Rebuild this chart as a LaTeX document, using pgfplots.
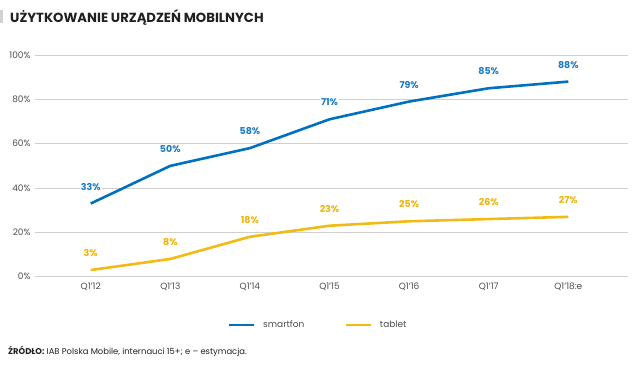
\documentclass[border=0pt]{standalone}
\usepackage{pgfplots}
\pgfplotsset{compat=1.18}
\usepackage{fontspec}
\setmainfont{Poppins}
\definecolor{sblue}{RGB}{0,112,192}
\definecolor{syellow}{RGB}{242,186,20}
\definecolor{lblblue}{RGB}{30,125,200}
\definecolor{lblyellow}{RGB}{240,180,10}
\definecolor{gridc}{RGB}{208,208,208}
\definecolor{txtc}{RGB}{77,77,77}
\definecolor{titlec}{RGB}{35,31,32}
\begin{document}
\begin{tikzpicture}
\useasboundingbox (0,0) rectangle (640pt,-369pt);
\fill[gray!35] (0,-10pt) rectangle (2.5pt,-23pt);
\node[anchor=west, inner sep=0pt, text=titlec, font=\fontsize{13.2}{15}\selectfont\bfseries] at (10pt,-17pt) {UŻYTKOWANIE URZĄDZEŃ MOBILNYCH};
\begin{axis}[
  at={(35pt,-276.7pt)}, anchor=south west,
  scale only axis, width=593pt, height=221.7pt,
  xmin=-0.70, xmax=6.75, ymin=0, ymax=100,
  xtick={0,...,6},
  xticklabels={Q1'12,Q1'13,Q1'14,Q1'15,Q1'16,Q1'17,Q1'18:e},
  ytick={0,20,...,100},
  yticklabel={\pgfmathprintnumber{\tick}\%},
  /pgf/number format/assume math mode=true,
  ymajorgrids, grid style={color=gridc, line width=0.9pt},
  axis line style={draw=none},
  major tick length=0pt,
  tick label style={font=\fontsize{9}{11}\selectfont, text=txtc},
  yticklabel style={xshift=-1pt},
  xticklabel style={yshift=-3pt},
  clip=false,
  nodes near coords={\pgfmathprintnumber{\pgfplotspointmeta}\%},
  nodes near coords style={anchor=center, yshift=17pt, fill=white, inner sep=1pt, font=\fontsize{9.5}{11}\selectfont\bfseries},
  legend columns=2,
  legend style={draw=none, fill=none, at={(axis description cs:0.3245,-0.218)}, anchor=west, inner sep=0pt,
    font=\fontsize{9}{11}\selectfont, text=txtc,
    /tikz/every odd column/.append style={column sep=6pt},
    /tikz/every even column/.append style={column sep=38pt}},
  legend image code/.code={\draw[#1, line width=2.6pt] (0pt,0pt) -- (25pt,0pt);},
]
\addplot[color=sblue, line width=2.6pt, nodes near coords style={text=lblblue}] coordinates {(0,33) (1,50) (2,58) (3,71) (4,79) (5,85) (6,88)};
\addlegendentry{smartfon}
\addplot[color=syellow, line width=2.6pt, nodes near coords style={text=lblyellow}] coordinates {(0,3) (1,8) (2,18) (3,23) (4,25) (5,26) (6,27)};
\addlegendentry{tablet}
\end{axis}
\node[anchor=west, inner sep=0pt, text=titlec, font=\fontsize{8.4}{10}\selectfont] at (8pt,-351pt) {\textbf{ŹRÓDŁO:} IAB Polska Mobile, internauci 15+; e – estymacja.};
\end{tikzpicture}
\end{document}
